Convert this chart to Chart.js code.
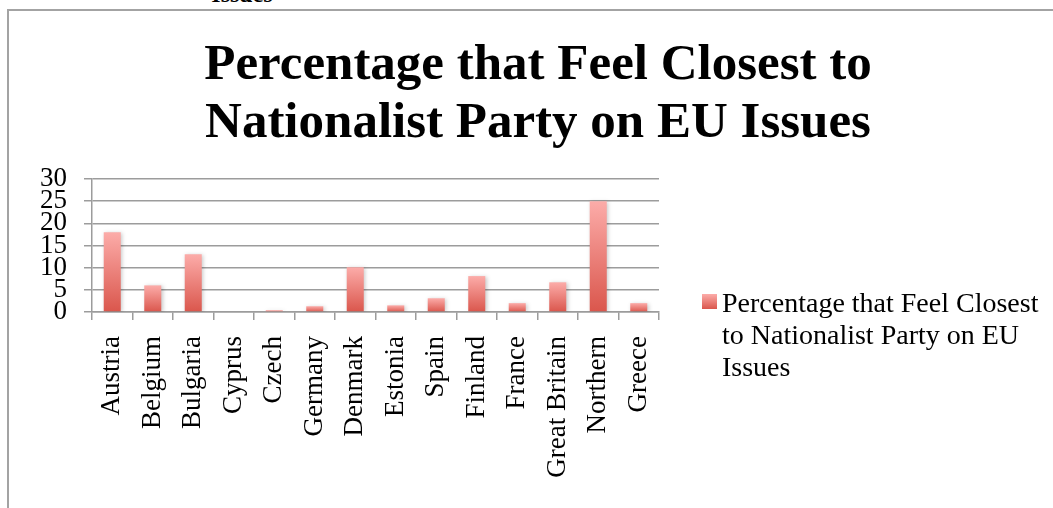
<!DOCTYPE html>
<html>
<head>
<meta charset="utf-8">
<script src="https://cdn.jsdelivr.net/npm/chart.js@4"></script>
<style>
  html, body { margin: 0; padding: 0; background: #fff; overflow: hidden; }
  #wrap { position: relative; width: 1053px; height: 508px; }
  #frame { position: absolute; left: 7px; top: 9px; width: 1100px; height: 600px; border: 2px solid #a3a3a3; box-sizing: border-box; }
  #cut { position: absolute; left: 142px; top: -18px; width: 200px; text-align: center; font: bold 24px "Liberation Serif", serif; line-height: 24px; }
  #title { position: absolute; left: 0; top: 33px; width: 1076px; text-align: center; font: bold 51px "Liberation Serif", serif; line-height: 58px; color: #000; }
  #chart { position: absolute; left: 0; top: 0; }
  #legend { position: absolute; left: 702px; top: 287px; }
  #legend .box { position: absolute; left: 0; top: 7px; width: 15px; height: 15px; background: linear-gradient(#fcaca9, #da564c); }
  #legend .txt { position: absolute; left: 20px; top: 0; width: 335px; font: 28px "Liberation Serif", serif; line-height: 32px; color: #000; }
</style>
</head>
<body>
<div id="wrap">
  <div id="cut">Issues</div>
  <div id="frame"></div>
  <div id="title">Percentage that Feel Closest to<br>Nationalist Party on EU Issues</div>
  <canvas id="chart" width="1053" height="508"></canvas>
  <div id="legend"><div class="box"></div><div class="txt"></div></div>
</div>
<script>
const seriesName = "Percentage that Feel Closest to Nationalist Party on EU Issues";
const countries = ["Austria", "Belgium", "Bulgaria", "Cyprus", "Czech", "Germany", "Denmark",
  "Estonia", "Spain", "Finland", "France", "Great Britain", "Northern", "Greece"];
const percentages = [18, 6, 13, 0, 0.4, 1.3, 10.1, 1.5, 3.1, 8.1, 2, 6.7, 25, 2];
const yTicks = [0, 5, 10, 15, 20, 25, 30];

const gridGray = "#9c9c9c";
const labelFont = { family: "'Liberation Serif', serif", size: 27, lineHeight: 1.0 };

// each bar gets its own light-to-dark gradient, top to base
function barGradient(context) {
  const chart = context.chart;
  if (!chart.chartArea) return "#e57068";
  const y = chart.scales.y;
  const top = y.getPixelForValue(context.raw);
  const base = y.getPixelForValue(0);
  if (base - top < 1) return "#e57068";
  const g = chart.ctx.createLinearGradient(0, top, 0, base);
  g.addColorStop(0, "#fcaca9");
  g.addColorStop(1, "#da564c");
  return g;
}

// soft drop shadow under the bars
const barShadow = {
  id: "barShadow",
  beforeDatasetsDraw(chart) {
    const ctx = chart.ctx;
    ctx.save();
    ctx.shadowColor = "rgba(0,0,0,0.22)";
    ctx.shadowBlur = 4;
    ctx.shadowOffsetX = 1.5;
    ctx.shadowOffsetY = 1;
  },
  afterDatasetsDraw(chart) {
    chart.ctx.restore();
  },
};

document.querySelector("#legend .txt").textContent = seriesName;

new Chart(document.getElementById("chart"), {
  type: "bar",
  data: {
    labels: countries,
    datasets: [{
      label: seriesName,
      data: percentages,
      backgroundColor: barGradient,
      borderWidth: 0,
      categoryPercentage: 1,
      barPercentage: 0.42,
    }],
  },
  options: {
    responsive: false,
    animation: false,
    layout: { padding: { left: 0, right: 394, top: 179, bottom: 0 } },
    plugins: { legend: { display: false }, title: { display: false }, tooltip: { enabled: false } },
    scales: {
      x: {
        grid: { offset: true, drawOnChartArea: false, drawTicks: true, tickLength: 8, color: gridGray, lineWidth: 1.5 },
        border: { color: gridGray, width: 1.5 },
        ticks: { color: "#000", font: labelFont, minRotation: 90, maxRotation: 90, autoSkip: false, padding: 16 },
        afterFit: (s) => { s.height = 196; },
      },
      y: {
        min: 0,
        max: 30,
        afterBuildTicks: (s) => { s.ticks = yTicks.map((v) => ({ value: v })); },
        grid: { color: gridGray, lineWidth: 1.5, tickLength: 8 },
        border: { color: gridGray, width: 1.5 },
        ticks: { color: "#000", font: labelFont, autoSkip: false, padding: 17 },
        afterFit: (s) => { s.width = 92; },
      },
    },
  },
  plugins: [barShadow],
});
</script>
</body>
</html>
